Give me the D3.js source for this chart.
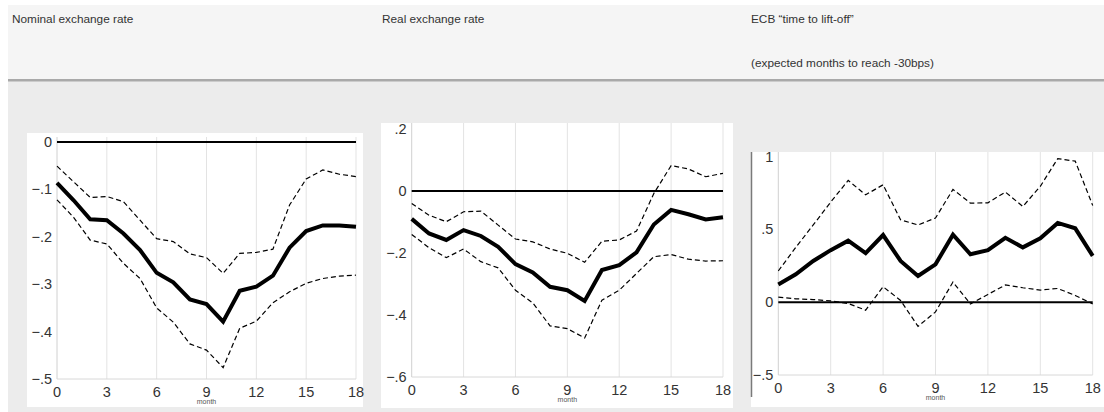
<!DOCTYPE html>
<html>
<head>
<meta charset="utf-8">
<script src="https://cdn.jsdelivr.net/npm/d3@7"></script>
<style>
  body { margin: 0; background: #fff; }
  svg { display: block; font-family: "Liberation Sans", Arial, sans-serif; }
</style>
</head>
<body>
<div id="container"></div>
<script>
// data
const months = d3.range(0, 19);
const xTicks = [0, 3, 6, 9, 12, 15, 18];

const nominalMid = [-0.086, -0.123, -0.163, -0.165, -0.193, -0.228, -0.276, -0.296, -0.332, -0.342, -0.379, -0.314, -0.305, -0.282, -0.223, -0.188, -0.176, -0.176, -0.179];
const nominalHi = [-0.051, -0.084, -0.117, -0.115, -0.126, -0.165, -0.204, -0.210, -0.236, -0.244, -0.277, -0.235, -0.233, -0.226, -0.133, -0.078, -0.059, -0.068, -0.073];
const nominalLo = [-0.122, -0.159, -0.207, -0.215, -0.256, -0.288, -0.350, -0.380, -0.426, -0.439, -0.476, -0.393, -0.378, -0.339, -0.316, -0.298, -0.288, -0.283, -0.281];
const nominalTicks = [0, -0.1, -0.2, -0.3, -0.4, -0.5];

const realMid = [-0.090, -0.137, -0.158, -0.126, -0.145, -0.180, -0.236, -0.263, -0.309, -0.320, -0.355, -0.255, -0.239, -0.198, -0.108, -0.061, -0.075, -0.092, -0.085];
const realHi = [-0.040, -0.078, -0.099, -0.067, -0.065, -0.110, -0.155, -0.164, -0.187, -0.201, -0.230, -0.162, -0.158, -0.129, -0.008, 0.082, 0.071, 0.046, 0.057];
const realLo = [-0.140, -0.183, -0.215, -0.187, -0.228, -0.248, -0.320, -0.361, -0.435, -0.444, -0.474, -0.352, -0.320, -0.266, -0.212, -0.205, -0.220, -0.226, -0.225];
const realTicks = [0.2, 0, -0.2, -0.4, -0.6];

const liftMid = [0.122, 0.191, 0.283, 0.357, 0.422, 0.336, 0.461, 0.283, 0.180, 0.260, 0.463, 0.329, 0.357, 0.442, 0.376, 0.438, 0.544, 0.507, 0.318];
const liftHi = [0.214, 0.376, 0.530, 0.687, 0.836, 0.737, 0.806, 0.565, 0.530, 0.578, 0.774, 0.680, 0.682, 0.756, 0.657, 0.795, 0.986, 0.968, 0.664];
const liftLo = [0.035, 0.023, 0.018, 0.009, -0.009, -0.055, 0.106, 0.012, -0.166, -0.067, 0.138, -0.012, 0.053, 0.118, 0.099, 0.083, 0.094, 0.046, -0.012];
const liftTicks = [1, 0.5, 0, -0.5];

const titles = ["Nominal exchange rate", "Real exchange rate", "ECB \u201ctime to lift-off\u201d"];
const subtitle = "(expected months to reach -30bps)";

const setAttrs = (el, attrs) =>
  Object.entries(attrs).reduce((acc, [key, val]) => acc.attr(key, val), el);

const W = 1104, H = 412;
const svg = d3.select("#container").append("svg");
setAttrs(svg, { width: W, height: H });

// page backgrounds
setAttrs(svg.append("rect"), { x: 8, y: 5, width: W - 8, height: 74, fill: "#f5f5f5" });
setAttrs(svg.append("rect"), { x: 8, y: 81, width: W - 8, height: H - 81, fill: "#ececec" });
setAttrs(svg.append("rect"), { x: 8, y: 79, width: W - 8, height: 2.5, fill: "#a9a9a9" });

const titleX = [12, 382, 751];
titles.forEach((t, i) => {
  setAttrs(svg.append("text"), { x: titleX[i], y: 23, "font-size": 11.8, fill: "#333" }).text(t);
});
setAttrs(svg.append("text"), { x: 751, y: 67, "font-size": 11.8, fill: "#333" }).text(subtitle);

const fmt = (v) => {
  if (v === 0) return "0";
  const s = String(Math.abs(v)).replace(/^0\./, ".");
  return (v < 0 ? "\u2212" : "") + s;
};

const panels = [
  { box: [27, 133, 336, 274], xr: [57, 356], top: 137, yd: [-0.5, 0], yr: [379, 142],
    mid: nominalMid, hi: nominalHi, lo: nominalLo, ticks: nominalTicks, border: false },
  { box: [381, 123, 352, 285], xr: [411.7, 723], top: 123, yd: [-0.6, 0.2], yr: [377, 129],
    mid: realMid, hi: realHi, lo: realLo, ticks: realTicks, border: false },
  { box: [751, 152, 353, 255], xr: [778.3, 1092.7], top: 152, yd: [-0.5, 1], yr: [375, 156.5],
    mid: liftMid, hi: liftHi, lo: liftLo, ticks: liftTicks, border: true }
];

panels.forEach((p) => {
  const g = svg.append("g");
  const [bx, by, bw, bh] = p.box;
  setAttrs(g.append("rect"), { x: bx, y: by, width: bw, height: bh, fill: "#fff" });
  if (p.border) {
    setAttrs(g.append("line"), { x1: bx + 0.5, x2: bx + 0.5, y1: by, y2: by + bh - 10, stroke: "#7a7a7a", "stroke-width": 1.5 });
  }

  const x = d3.scaleLinear().domain([0, 18]).range(p.xr);
  const y = d3.scaleLinear().domain(p.yd).range(p.yr);
  const bottom = y(p.yd[0]);

  // vertical grid (includes frame at 0 and 18)
  xTicks.forEach((t) => {
    setAttrs(g.append("line"), {
      x1: x(t), x2: x(t), y1: p.top, y2: bottom,
      stroke: t === 0 ? "#d0d0d0" : "#e3e3e3", "stroke-width": 1
    });
  });
  setAttrs(g.append("line"), { x1: x(0), x2: x(18), y1: bottom, y2: bottom, stroke: "#d8d8d8", "stroke-width": 1 });

  // tick labels
  p.ticks.forEach((t) => {
    setAttrs(g.append("text"), {
      x: x(0) - 5, y: y(t), "text-anchor": "end", "dominant-baseline": "central",
      "font-size": 14.5, fill: "#333"
    }).text(fmt(t));
  });
  xTicks.forEach((t) => {
    setAttrs(g.append("text"), {
      x: x(t), y: bottom + 13, "text-anchor": "middle", "dominant-baseline": "central",
      "font-size": 14.5, fill: "#333"
    }).text(t);
  });
  setAttrs(g.append("text"), {
    x: (x(0) + x(18)) / 2, y: bottom + 25, "text-anchor": "middle", "font-size": 7, fill: "#555"
  }).text("month");

  // zero line
  setAttrs(g.append("line"), { x1: x(0), x2: x(18), y1: y(0), y2: y(0), stroke: "#000", "stroke-width": 2 });

  const line = d3.line().x((d, i) => x(months[i])).y((d) => y(d));
  [p.hi, p.lo].forEach((s) => {
    setAttrs(g.append("path"), {
      d: line(s), fill: "none", stroke: "#000", "stroke-width": 1.2, "stroke-dasharray": "5,3"
    });
  });
  setAttrs(g.append("path"), {
    d: line(p.mid), fill: "none", stroke: "#000", "stroke-width": 4, "stroke-linejoin": "miter"
  });
});
</script>
</body>
</html>
